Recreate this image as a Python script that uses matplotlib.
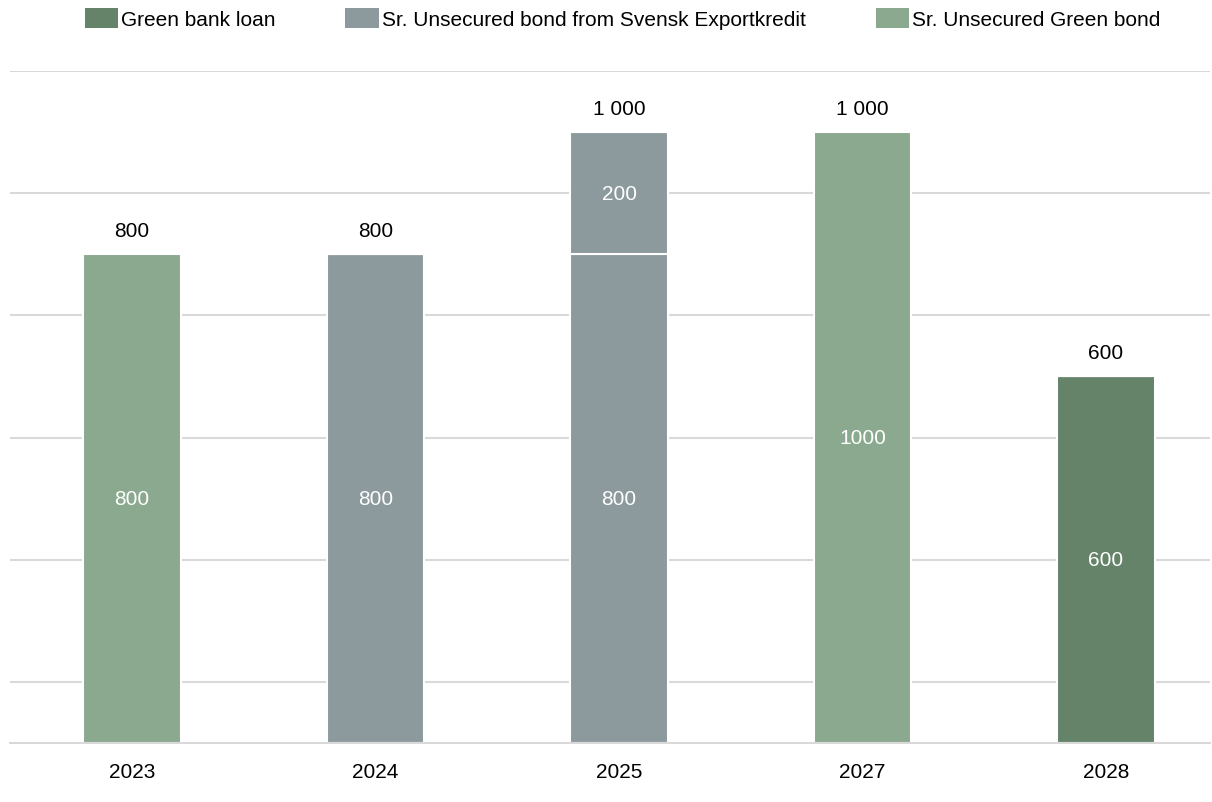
import matplotlib
matplotlib.use("Agg")
import matplotlib.pyplot as plt
from matplotlib.patches import Patch
import numpy as np

plt.rcParams['font.family'] = ['Liberation Sans', 'DejaVu Sans']

years = ['2023', '2024', '2025', '2027', '2028']
green_bank_loan = [0, 0, 0, 0, 600]
svensk_bond_a = [0, 800, 800, 0, 0]
svensk_bond_b = [0, 0, 200, 0, 0]
green_bond = [800, 0, 0, 1000, 0]
totals = [800, 800, 1000, 1000, 600]

c_loan = '#648369'
c_svensk = '#8C9A9E'
c_green = '#8AA98F'

fig = plt.figure(figsize=(12.12, 8.03), dpi=100)
ax = fig.add_axes([10/1212, (803-744)/803, 1200/1212, (744-72)/803])

x = np.arange(len(years))
w = 0.40
series = [(green_bank_loan, c_loan), (svensk_bond_a, c_svensk),
          (svensk_bond_b, c_svensk), (green_bond, c_green)]
bottom = np.zeros(len(years))
for vals, col in series:
    vals = np.array(vals, dtype=float)
    ax.bar(x, vals, w, bottom=bottom, color=col, edgecolor='white',
           linewidth=1.5, zorder=3)
    for xi, v, b in zip(x, vals, bottom):
        if v > 0:
            ax.text(xi, b + v / 2, f'{int(v)}', ha='center', va='center',
                    color='white', fontsize=15, zorder=4)
    bottom += vals

for xi, t in zip(x, totals):
    ax.annotate(f'{t:,}'.replace(',', ' '), (xi, t), xytext=(0, 17),
                textcoords='offset points', ha='center', va='center',
                fontsize=15, color='black')

ax.set_xlim(-0.501, 4.427)
ax.set_ylim(0, 1100)
ax.set_yticks([100, 300, 500, 700, 900, 1100])
ax.yaxis.grid(True, color='#D9D9D9', linewidth=1.5, zorder=0)
ax.set_axisbelow(True)
ax.tick_params(axis='y', left=False, labelleft=False)
ax.set_xticks(x)
ax.set_xticklabels(years, fontsize=15)
ax.tick_params(axis='x', length=0, pad=14)
for s in ['top', 'right', 'left']:
    ax.spines[s].set_visible(False)
ax.spines['bottom'].set_color('#D9D9D9')
ax.spines['bottom'].set_linewidth(1.5)
ax.spines['bottom'].set_zorder(5)

handles = [Patch(facecolor=c_loan, label='Green bank loan'),
           Patch(facecolor=c_svensk, label='Sr. Unsecured bond from Svensk Exportkredit'),
           Patch(facecolor=c_green, label='Sr. Unsecured Green bond')]
fig.legend(handles=handles, loc='center', bbox_to_anchor=(622.5/1212, 1 - 19.5/803),
           ncol=3, frameon=False, fontsize=15, handlelength=1.6, handleheight=1.1,
           handletextpad=0.15, columnspacing=3.35, borderaxespad=0, borderpad=0)
fig.savefig('out.png', dpi=100)
